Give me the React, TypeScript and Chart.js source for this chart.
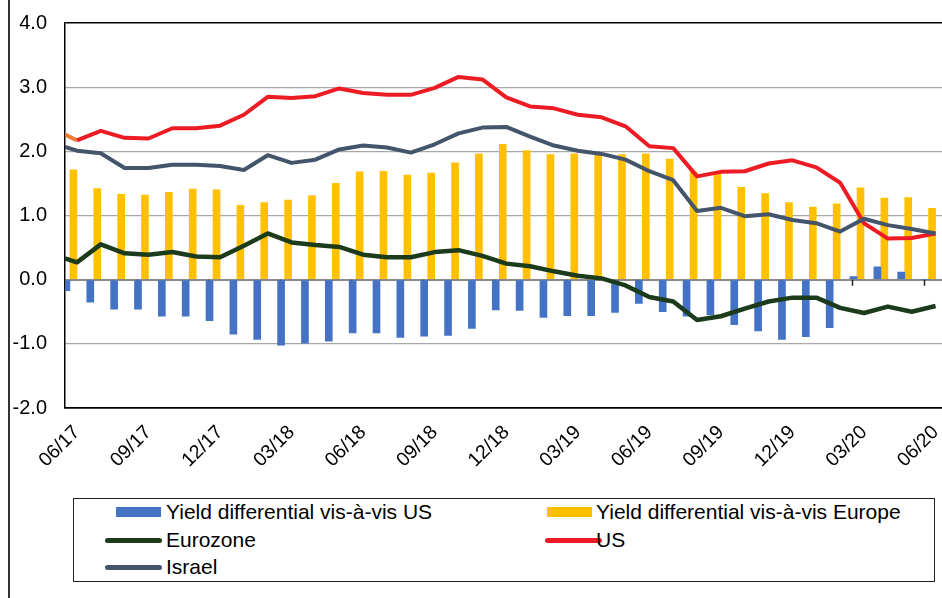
import { useEffect, useRef } from "react";
import { Chart, registerables } from "chart.js";

Chart.register(...registerables);

const months = [
  "06/17", "07/17", "08/17", "09/17", "10/17", "11/17", "12/17",
  "01/18", "02/18", "03/18", "04/18", "05/18", "06/18", "07/18", "08/18", "09/18", "10/18", "11/18", "12/18",
  "01/19", "02/19", "03/19", "04/19", "05/19", "06/19", "07/19", "08/19", "09/19", "10/19", "11/19", "12/19",
  "01/20", "02/20", "03/20", "04/20", "05/20", "06/20",
];

// Bars (one value per month)
const diffUS = [
  -0.17, -0.35, -0.46, -0.46, -0.57, -0.57, -0.64, -0.85, -0.93, -1.02,
  -0.99, -0.96, -0.83, -0.83, -0.9, -0.88, -0.87, -0.76, -0.47, -0.48,
  -0.59, -0.56, -0.56, -0.51, -0.37, -0.5, -0.57, -0.55, -0.7, -0.8,
  -0.93, -0.89, -0.75, 0.05, 0.2, 0.12, 0,
];
const diffEurope = [
  1.71, 1.42, 1.33, 1.32, 1.36, 1.41, 1.4, 1.16, 1.2, 1.24,
  1.31, 1.5, 1.68, 1.69, 1.63, 1.66, 1.82, 1.96, 2.11, 2.01,
  1.95, 1.96, 1.94, 1.95, 1.96, 1.88, 1.68, 1.65, 1.44, 1.34,
  1.2, 1.13, 1.18, 1.43, 1.27, 1.28, 1.11,
];

// Lines: first value is the leading point at the left edge of the axis, then one per month
const eurozone = [
  0.33,
  0.27, 0.55, 0.41, 0.39, 0.43, 0.36, 0.35, 0.53, 0.72, 0.58,
  0.54, 0.51, 0.39, 0.35, 0.35, 0.43, 0.46, 0.37, 0.25, 0.21,
  0.13, 0.06, 0.02, -0.09, -0.27, -0.34, -0.63, -0.57, -0.45, -0.34,
  -0.28, -0.28, -0.44, -0.52, -0.42, -0.5, -0.41,
];
const us = [
  2.26,
  2.17, 2.32, 2.21, 2.2, 2.36, 2.36, 2.4, 2.57, 2.85, 2.83,
  2.86, 2.98, 2.91, 2.88, 2.88, 2.99, 3.16, 3.12, 2.84, 2.7,
  2.67, 2.57, 2.53, 2.39, 2.08, 2.05, 1.61, 1.68, 1.69, 1.81,
  1.86, 1.75, 1.51, 0.88, 0.64, 0.65, 0.72,
];
const israel = [
  2.07,
  2.01, 1.97, 1.74, 1.74, 1.79, 1.79, 1.77, 1.71, 1.94, 1.82,
  1.87, 2.03, 2.09, 2.06, 1.98, 2.11, 2.28, 2.37, 2.38, 2.23,
  2.09, 2.01, 1.96, 1.87, 1.69, 1.55, 1.07, 1.12, 0.99, 1.02,
  0.93, 0.88, 0.75, 0.95, 0.85, 0.79, 0.72,
];

const yTicks = [4, 3, 2, 1, 0, -1, -2];

const C_BLUE = "#4472C4";
const C_GOLD = "#FFC000";
const C_GREEN = "#1B3B1B";
const C_RED = "#ED1C24";
const C_LEAD = "#ED7D31";
const C_SLATE = "#44546A";

const FONT = "'Liberation Sans', Arial, Helvetica, sans-serif";

const toPoints = (arr: number[]) =>
  arr.map((v, j) => ({ x: j === 0 ? -0.5 : j - 1, y: v }));

const zeroTicks = {
  id: "zeroTicks",
  beforeDatasetsDraw(chart: any) {
    const { ctx } = chart;
    const xs = chart.scales.x;
    const ys = chart.scales.y;
    const y0 = ys.getPixelForValue(0);
    const w = (xs.right - xs.left) / months.length;
    ctx.save();
    ctx.strokeStyle = "#222";
    ctx.lineWidth = 1.5;
    ctx.beginPath();
    for (let k = 3; k < months.length; k += 3) {
      const px = Math.round(xs.getPixelForValue(k) - w / 2) + 0.5;
      ctx.moveTo(px, y0);
      ctx.lineTo(px, y0 + 6);
    }
    ctx.stroke();
    ctx.restore();
  },
};

const legendItems = [
  { label: "Yield differential vis-à-vis US", color: C_BLUE, kind: "box", col: 0, row: 0 },
  { label: "Yield differential vis-à-vis Europe", color: C_GOLD, kind: "box", col: 1, row: 0 },
  { label: "Eurozone", color: C_GREEN, kind: "line", col: 0, row: 1 },
  { label: "US", color: C_RED, kind: "line", col: 1, row: 1 },
  { label: "Israel", color: C_SLATE, kind: "line", col: 0, row: 2 },
];

export default function App() {
  const ref = useRef<HTMLCanvasElement | null>(null);

  useEffect(() => {
    if (!ref.current) return;
    const chart = new Chart(ref.current, {
      data: {
        labels: months,
        datasets: [
          {
            type: "bar",
            label: "Yield differential vis-à-vis US",
            data: diffUS,
            backgroundColor: C_BLUE,
            borderWidth: 0,
            barThickness: 7,
            order: 4,
            xAxisID: "x",
          },
          {
            type: "bar",
            label: "Yield differential vis-à-vis Europe",
            data: diffEurope,
            backgroundColor: C_GOLD,
            borderWidth: 0,
            barThickness: 7,
            order: 4,
            xAxisID: "x",
          },
          {
            type: "line",
            label: "Eurozone",
            data: toPoints(eurozone),
            borderColor: C_GREEN,
            borderWidth: 4.5,
            pointRadius: 0,
            tension: 0,
            borderJoinStyle: "round",
            order: 3,
            xAxisID: "xl",
          },
          {
            type: "line",
            label: "US",
            data: toPoints(us),
            borderColor: C_RED,
            segment: {
              borderColor: (c: any) => (c.p0DataIndex === 0 ? C_LEAD : C_RED),
            },
            borderWidth: 4,
            pointRadius: 0,
            tension: 0,
            borderJoinStyle: "round",
            order: 2,
            xAxisID: "xl",
          },
          {
            type: "line",
            label: "Israel",
            data: toPoints(israel),
            borderColor: C_SLATE,
            borderWidth: 4,
            pointRadius: 0,
            tension: 0,
            borderJoinStyle: "round",
            order: 1,
            xAxisID: "xl",
          },
        ],
      } as any,
      options: {
        responsive: false,
        animation: false,
        devicePixelRatio: 1,
        layout: { padding: { top: 23, left: 0, right: 12.5, bottom: 0 } },
        plugins: {
          legend: { display: false },
          tooltip: { enabled: false },
        },
        scales: {
          x: {
            type: "category",
            offset: true,
            grid: {
              display: true,
              drawOnChartArea: false,
              drawTicks: true,
              tickLength: 13,
              tickColor: "rgba(0,0,0,0)",
              color: "rgba(0,0,0,0)",
            },
            border: { display: true, color: "#000", width: 1.5 },
            ticks: {
              autoSkip: false,
              maxRotation: 45,
              minRotation: 45,
              padding: 0,
              color: "#000",
              font: { family: FONT, size: 19.5 },
              callback: (_v: any, i: number) => (i % 3 === 0 ? months[i] : ""),
            },
            afterFit: (s: any) => {
              s.height = 72;
            },
          },
          xl: {
            type: "linear",
            display: false,
            min: -0.5,
            max: months.length - 0.5,
          },
          y: {
            min: -2,
            max: 4,
            afterBuildTicks: (s: any) => {
              s.ticks = yTicks.map((v) => ({ value: v }));
            },
            grid: {
              drawTicks: true,
              tickLength: 18,
              tickColor: "rgba(0,0,0,0)",
              color: (c: any) =>
                c.tick && (c.tick.value === 4 || c.tick.value === -2)
                  ? "#000"
                  : c.tick && c.tick.value === 0
                  ? "#8a8a8a"
                  : "#a8a8a8",
              lineWidth: (c: any) =>
                c.tick && (c.tick.value === 4 || c.tick.value === -2)
                  ? 1.5
                  : c.tick && c.tick.value === 0
                  ? 2
                  : 1.2,
            },
            border: { display: true, color: "#000", width: 1.5 },
            ticks: {
              padding: 0,
              color: "#000",
              font: { family: FONT, size: 20 },
              callback: (v: any) => Number(v).toFixed(1),
            },
            afterFit: (s: any) => {
              s.width = 55;
            },
          },
        },
      } as any,
      plugins: [zeroTicks],
    });
    return () => chart.destroy();
  }, []);

  const rowY = [512, 540, 567];
  const colSwatchBox = [116, 547];
  const colSwatchLine = [105, 545];
  const colText = [166, 596];

  return (
    <div
      style={{
        position: "fixed",
        left: 8,
        top: 0,
        width: 932,
        height: 598,
        overflow: "hidden",
        borderLeft: "2px solid #333",
        background: "#fff",
        fontFamily: FONT,
      }}
    >
      <canvas
        ref={ref}
        width={950}
        height={480}
        style={{ position: "absolute", left: 0, top: 0, width: 950, height: 480 }}
      />
      <div
        style={{
          position: "absolute",
          left: 73 - 10,
          top: 498,
          width: 935 - 73,
          height: 582 - 498,
          border: "1.5px solid #222",
          boxSizing: "border-box",
        }}
      />
      {legendItems.map((it) => {
        const cy = rowY[it.row];
        const sw =
          it.kind === "box" ? (
            <div
              key={it.label + "s"}
              style={{
                position: "absolute",
                left: colSwatchBox[it.col] - 10,
                top: cy - 5,
                width: 45,
                height: 10,
                background: it.color,
              }}
            />
          ) : (
            <div
              key={it.label + "s"}
              style={{
                position: "absolute",
                left: colSwatchLine[it.col] - 10,
                top: cy - 2.5,
                width: 57,
                height: 5,
                borderRadius: 3,
                background: it.color,
              }}
            />
          );
        return [
          sw,
          <span
            key={it.label + "t"}
            style={{
              position: "absolute",
              left: colText[it.col] - 10,
              top: cy - 13,
              height: 26,
              lineHeight: "26px",
              fontSize: 21,
              color: "#000",
              whiteSpace: "nowrap",
            }}
          >
            {it.label}
          </span>,
        ];
      })}
    </div>
  );
}
